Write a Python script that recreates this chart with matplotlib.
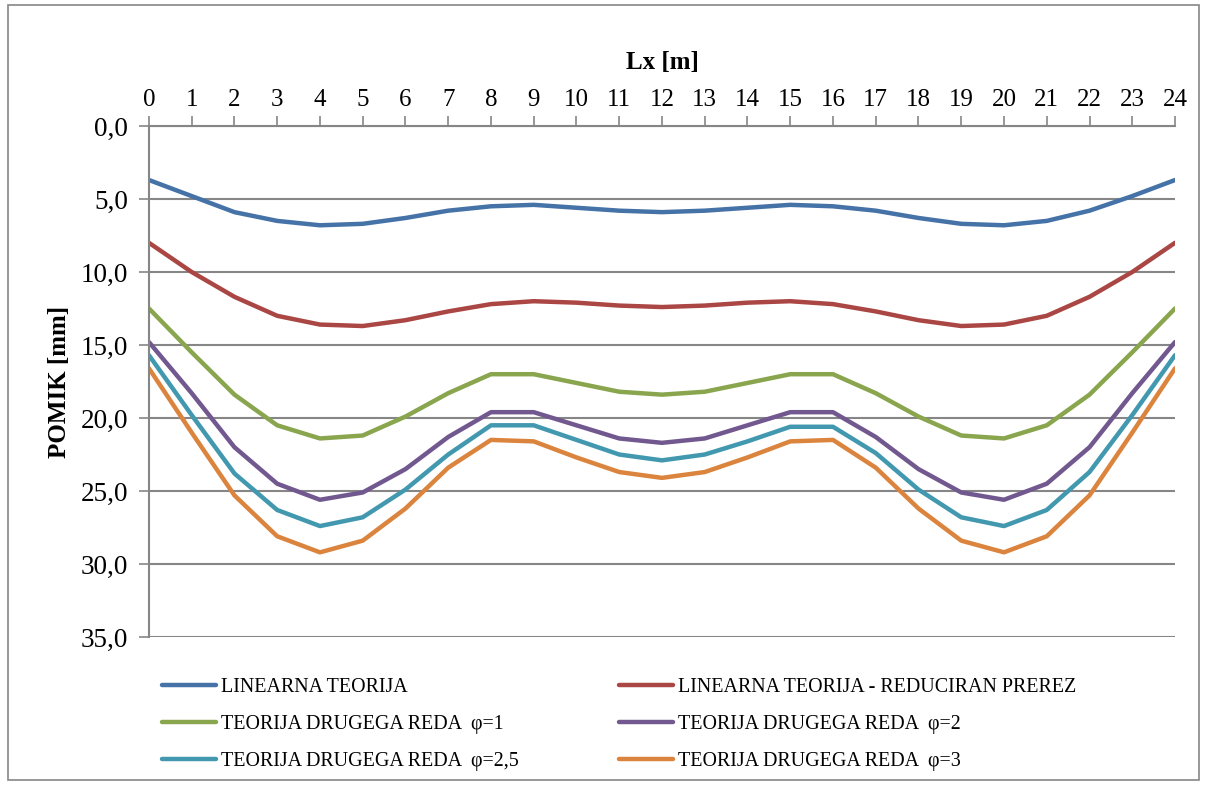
import matplotlib.pyplot as plt
from matplotlib.patches import Rectangle
from matplotlib.ticker import FuncFormatter

plt.rcParams['font.family'] = ['Liberation Serif', 'DejaVu Serif']

x = list(range(25))

linearna = [3.7, 4.8, 5.9, 6.5, 6.8, 6.7, 6.3, 5.8, 5.5, 5.4, 5.6, 5.8, 5.9,
            5.8, 5.6, 5.4, 5.5, 5.8, 6.3, 6.7, 6.8, 6.5, 5.8, 4.8, 3.7]
reduciran = [8.0, 10.0, 11.7, 13.0, 13.6, 13.7, 13.3, 12.7, 12.2, 12.0, 12.1, 12.3, 12.4,
             12.3, 12.1, 12.0, 12.2, 12.7, 13.3, 13.7, 13.6, 13.0, 11.7, 10.0, 8.0]
phi1 = [12.5, 15.5, 18.4, 20.5, 21.4, 21.2, 19.9, 18.3, 17.0, 17.0, 17.6, 18.2, 18.4,
        18.2, 17.6, 17.0, 17.0, 18.3, 19.9, 21.2, 21.4, 20.5, 18.4, 15.5, 12.5]
phi2 = [14.8, 18.3, 22.0, 24.5, 25.6, 25.1, 23.5, 21.3, 19.6, 19.6, 20.5, 21.4, 21.7,
        21.4, 20.5, 19.6, 19.6, 21.3, 23.5, 25.1, 25.6, 24.5, 22.0, 18.3, 14.8]
phi25 = [15.7, 19.8, 23.8, 26.3, 27.4, 26.8, 24.9, 22.5, 20.5, 20.5, 21.5, 22.5, 22.9,
         22.5, 21.6, 20.6, 20.6, 22.4, 24.9, 26.8, 27.4, 26.3, 23.7, 19.8, 15.7]
phi3 = [16.6, 21.0, 25.3, 28.1, 29.2, 28.4, 26.2, 23.4, 21.5, 21.6, 22.7, 23.7, 24.1,
        23.7, 22.7, 21.6, 21.5, 23.4, 26.2, 28.4, 29.2, 28.1, 25.3, 21.0, 16.6]

series = [
    ("LINEARNA TEORIJA", linearna, "#4572A7"),
    ("LINEARNA TEORIJA - REDUCIRAN PREREZ", reduciran, "#AA4643"),
    ("TEORIJA DRUGEGA REDA  φ=1", phi1, "#89A54E"),
    ("TEORIJA DRUGEGA REDA  φ=2", phi2, "#71588F"),
    ("TEORIJA DRUGEGA REDA  φ=2,5", phi25, "#4198AF"),
    ("TEORIJA DRUGEGA REDA  φ=3", phi3, "#DB843D"),
]

fig = plt.figure(figsize=(12.07, 7.85), dpi=100)
ax = fig.add_axes([0.1234, 0.1885, 0.8501, 0.651])

lines = []
for label, vals, col in series:
    ln, = ax.plot(x, vals, color=col, lw=3.2, label=label, solid_capstyle='round')
    lines.append(ln)

ax.set_xlim(0, 24)
ax.set_ylim(35, 0)
ax.set_xticks(x)
ax.set_yticks(range(0, 36, 5))
ax.yaxis.set_major_formatter(FuncFormatter(lambda v, p: f"{v:.1f}".replace('.', ',')))
ax.xaxis.tick_top()
ax.xaxis.set_label_position('top')
ax.tick_params(axis='x', labelsize=18, color='#868686', length=7, width=1.2, pad=4)
ax.tick_params(axis='y', labelsize=19.5, color='#868686', length=7, width=1.2, pad=8)
ax.grid(axis='y', color='#868686', lw=1.5)
ax.set_axisbelow(True)
for s in ['right', 'bottom']:
    ax.spines[s].set_visible(False)
for s in ['left', 'top']:
    ax.spines[s].set_color('#868686')
    ax.spines[s].set_linewidth(1.5)

ax.set_xlabel("Lx [m]", fontsize=18, fontweight='bold', labelpad=14)
ax.set_ylabel("POMIK [mm]", fontsize=18, fontweight='bold')
ax.yaxis.set_label_coords(-0.076, 0.5)

# row-wise legend order (matplotlib fills columns first)
order = [0, 2, 4, 1, 3, 5]
fig.legend([lines[i] for i in order], [series[i][0] for i in order],
           loc='upper left', bbox_to_anchor=(0.128, 0.146), ncol=2, frameon=False,
           fontsize=14.4, handlelength=2.7, handletextpad=0.25, columnspacing=5.0,
           labelspacing=0.9, borderaxespad=0)

fig.patches.append(Rectangle((8 / 1207, 5 / 785), 1191 / 1207, 775 / 785,
                             transform=fig.transFigure, fill=False,
                             edgecolor='#868686', lw=1.2))

fig.savefig("out.png", dpi=100)
